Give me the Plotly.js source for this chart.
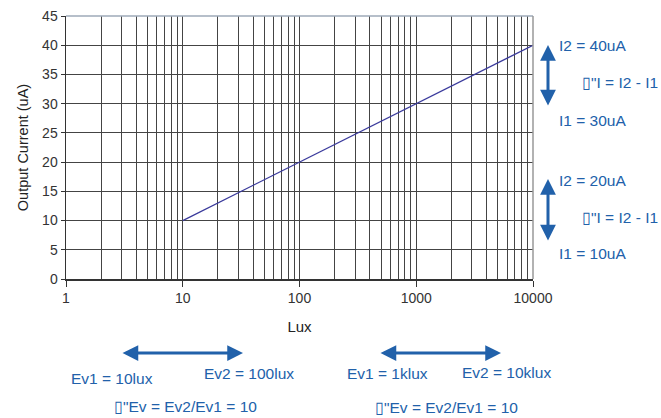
<!DOCTYPE html>
<html>
<head>
<meta charset="utf-8">
<script src="https://cdn.plot.ly/plotly-3.0.1.min.js"></script>
<style>html,body{margin:0;padding:0;background:#fff;}#chart{width:661px;height:418px;}</style>
</head>
<body>
<div id="chart"></div>
<script>
// Data
var luxValues = [10, 10000];
var currentValues = [10, 40];
var xTickVals = [1, 10, 100, 1000, 10000];
var xTickText = ['1', '10', '100', '1000', '10000'];
var rightLabels = ['I2 = 40uA', '\u25AF"I = I2 - I1', 'I1 = 30uA', 'I2 = 20uA', '\u25AF"I = I2 - I1', 'I1 = 10uA'];
var bottomLabels = ['Ev1 = 10lux', 'Ev2 = 100lux', 'Ev1 = 1klux', 'Ev2 = 10klux', '\u25AF"Ev = Ev2/Ev1 = 10', '\u25AF"Ev = Ev2/Ev1 = 10'];

var L = 66, R = 128, T = 16, B = 139, W = 661, H = 418;
var PW = W - L - R, PH = H - T - B;
function X(px) { return (px - L) / PW; }
function Y(py) { return (H - B - py) / PH; }

var blue = '#2161aa';
var fontAnn = {family: 'Liberation Sans, Arial, sans-serif', size: 15.5, color: blue};

function txt(t, px, py, anchor) {
  return {text: t, xref: 'paper', yref: 'paper', x: X(px), y: Y(py), xanchor: anchor || 'center', yanchor: 'middle', showarrow: false, font: fontAnn};
}
function arrow(x1, y1, x2, y2) {
  return {text: '', xref: 'paper', yref: 'paper', axref: 'paper', ayref: 'paper',
    x: X(x2), y: Y(y2), ax: X(x1), ay: Y(y1), showarrow: true,
    arrowhead: 2, startarrowhead: 2, arrowside: 'end+start', arrowsize: 1.05, startarrowsize: 1.05,
    arrowwidth: 3, arrowcolor: blue, standoff: 0, startstandoff: 0};
}

var annotations = [
  arrow(548, 107, 548, 45),
  arrow(548, 242, 548, 179),
  arrow(121, 353, 243, 353),
  arrow(379, 353, 501, 353),
  txt(rightLabels[0], 557, 46, 'left'),
  txt(rightLabels[1], 580, 83, 'left'),
  txt(rightLabels[2], 557, 120, 'left'),
  txt(rightLabels[3], 557, 181, 'left'),
  txt(rightLabels[4], 580, 217, 'left'),
  txt(rightLabels[5], 557, 253, 'left'),
  txt(bottomLabels[0], 112, 378),
  txt(bottomLabels[1], 249, 374),
  txt(bottomLabels[2], 387, 374),
  txt(bottomLabels[3], 506, 372),
  txt(bottomLabels[4], 185, 406),
  txt(bottomLabels[5], 446, 408)
];

var trace = {
  x: luxValues, y: currentValues, type: 'scatter', mode: 'lines',
  line: {color: '#3a3a9c', width: 1.3}, hoverinfo: 'none'
};

var layout = {
  width: W, height: H,
  margin: {l: L, r: R, t: T, b: B, pad: 0},
  paper_bgcolor: '#fff', plot_bgcolor: '#fff',
  showlegend: false,
  font: {family: 'Liberation Sans, Arial, sans-serif', size: 14, color: '#333'},
  xaxis: {
    type: 'log', range: [0, 4], tickvals: xTickVals, ticktext: xTickText,
    showgrid: true, gridcolor: '#444', gridwidth: 1,
    minor: {dtick: 'D1', showgrid: true, gridcolor: '#444', gridwidth: 1, ticks: ''},
    showline: true, linecolor: '#333', linewidth: 1.5,
    ticks: 'outside', ticklen: 6, tickcolor: '#333', tickwidth: 1,
    tickfont: {size: 14, color: '#333'},
    zeroline: false,
    title: {text: 'Lux', font: {size: 15, color: '#222'}, standoff: 16}
  },
  yaxis: {
    range: [0, 45], dtick: 5, tick0: 0,
    showgrid: true, gridcolor: '#444', gridwidth: 1,
    showline: true, linecolor: '#333', linewidth: 1.5,
    ticks: 'outside', ticklen: 4, tickcolor: '#333', tickwidth: 1,
    tickfont: {size: 14, color: '#333'},
    zeroline: false,
    title: {text: 'Output Current (uA)', font: {size: 14.5, color: '#222'}, standoff: 10}
  },
  shapes: [
    {type: 'line', xref: 'paper', yref: 'paper', x0: 0, x1: 1, y0: 1, y1: 1, line: {color: '#9eaab8', width: 1.5}},
    {type: 'line', xref: 'paper', yref: 'paper', x0: 1, x1: 1, y0: 0, y1: 1, line: {color: '#999', width: 1.5}}
  ],
  annotations: annotations
};

Plotly.newPlot('chart', [trace], layout, {staticPlot: true, displayModeBar: false});
</script>
</body>
</html>
